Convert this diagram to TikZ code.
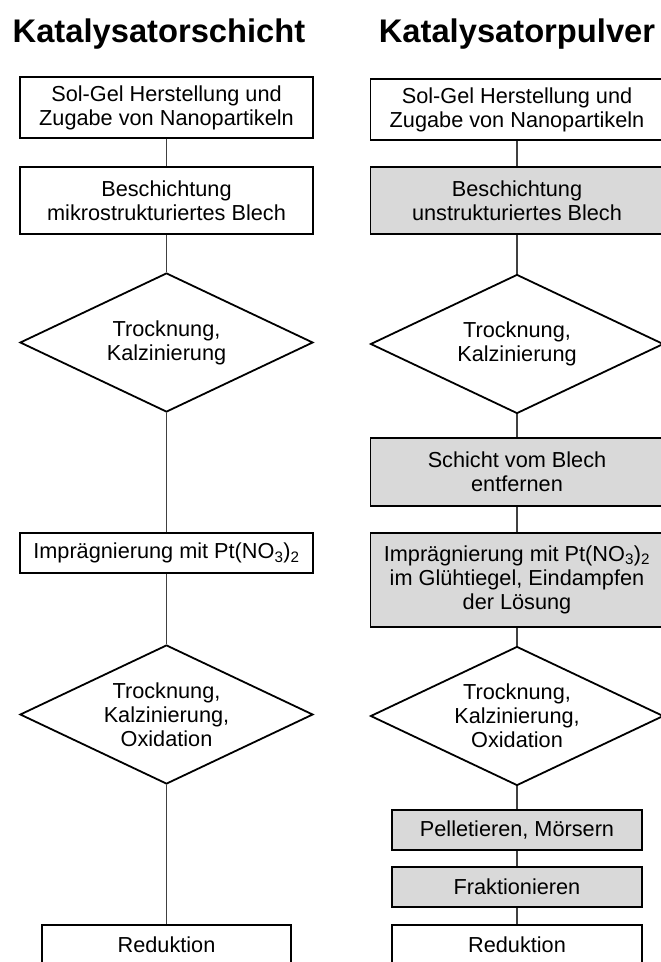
\documentclass[tikz,border=0pt]{standalone}
\usepackage{fontspec}
\setmainfont{Liberation Sans}
\usetikzlibrary{shapes.geometric}
\tikzset{
  txt/.style={align=center, font=\fontsize{21.7}{24.2}\selectfont},
  stepbox/.style={txt, draw, line width=1.8pt, fill=white, inner sep=0pt,
                  minimum width=293, minimum height=40},
  greybox/.style={stepbox, fill=black!15},
  dia/.style={txt, draw, line width=1.8pt, diamond, aspect=2.1, inner sep=0pt,
              minimum width=293, minimum height=139},
  ttl/.style={font=\fontsize{32.7}{36}\selectfont\bfseries, anchor=base},
  conn/.style={draw=black!75, line width=1.8pt},
}

\begin{document}
\begin{tikzpicture}[x=1pt, y=-1pt]
    \useasboundingbox (0,0) rectangle (661,962);
    \clip (0,0) rectangle (661,962);
    \node[ttl] (ttlschicht) at (159,42) {Katalysatorschicht};
    \node[ttl] (ttlpulver)  at (517,42) {Katalysatorpulver};
    % Katalysatorschicht
    \node[stepbox, minimum height=61] (sgel)  at (166.5,107.5) {Sol-Gel Herstellung und\\Zugabe von Nanopartikeln};
    \node[stepbox, minimum height=67] (beschm) at (166.5,200.5) {Beschichtung\\mikrostrukturiertes Blech};
    \node[dia] (trockna)  at (166.5,342.5) {Trocknung,\\Kalzinierung};
    \node[stepbox] (impra)    at (166.5,553)   {Imprägnierung mit Pt(NO\textsubscript{3})\textsubscript{2}};
    \node[dia] (oxida)    at (166.5,714.5) {Trocknung,\\Kalzinierung,\\Oxidation};
    \node[stepbox, minimum width=249] (redua) at (166.5,945) {Reduktion};
    % Katalysatorpulver
    \node[stepbox, minimum height=61] (sgelp)  at (517,109.5) {Sol-Gel Herstellung und\\Zugabe von Nanopartikeln};
    \node[greybox, minimum height=67] (beschu) at (517,200.5) {Beschichtung\\unstrukturiertes Blech};
    \node[dia] (trocknb)  at (517,344) {Trocknung,\\Kalzinierung};
    \node[greybox, minimum height=68] (entf)   at (517,472) {Schicht vom Blech\\entfernen};
    \node[greybox, minimum height=94] (imprb)  at (517,580) {Imprägnierung mit Pt(NO\textsubscript{3})\textsubscript{2}\\im Glühtiegel, Eindampfen\\der Lösung};
    \node[dia] (oxidb)    at (517,716) {Trocknung,\\Kalzinierung,\\Oxidation};
    \node[greybox, minimum width=250] (pellet) at (517,830) {Pelletieren, Mörsern};
    \node[greybox, minimum width=250] (frakt)  at (517,887) {Fraktionieren};
    \node[stepbox, minimum width=250] (redub)  at (517,945) {Reduktion};
    \draw[conn] (sgel) -- (beschm);
    \draw[conn] (beschm) -- (trockna);
    \draw[conn] (trockna) -- (impra);
    \draw[conn] (impra) -- (oxida);
    \draw[conn] (oxida) -- (redua);
    \draw[conn] (sgelp) -- (beschu);
    \draw[conn] (beschu) -- (trocknb);
    \draw[conn] (trocknb) -- (entf);
    \draw[conn] (entf) -- (imprb);
    \draw[conn] (imprb) -- (oxidb);
    \draw[conn] (oxidb) -- (pellet);
    \draw[conn] (pellet) -- (frakt);
    \draw[conn] (frakt) -- (redub);
\end{tikzpicture}
\end{document}
